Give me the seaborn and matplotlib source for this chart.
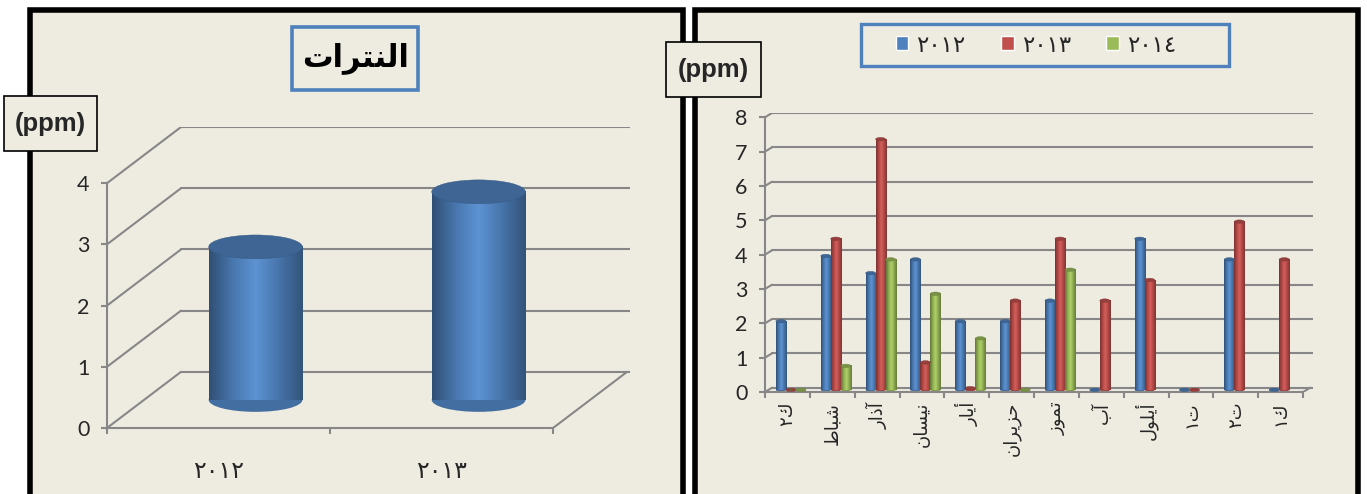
import numpy as np
import pandas as pd
import matplotlib
matplotlib.use("Agg")
import matplotlib.pyplot as plt
import matplotlib.colors as mcolors
import matplotlib.transforms as mtrans
from matplotlib.patches import Rectangle, Ellipse
import seaborn as sns

# ---- data -------------------------------------------------------------
# Arabic text is written in visual order with presentation forms so that
# matplotlib (no bidi / shaping) draws it joined and right-to-left.
title_left = "\uFE95\uFE8D\uFEAE\uFE98\uFEE8\uFEDF\uFE8D"          # النترات
years = ["\u0662\u0660\u0661\u0662", "\u0662\u0660\u0661\u0663", "\u0662\u0660\u0661\u0664"]

years_left = years[:2]
nitrate = [2.5, 3.4]

months = [
    "\u0662\uFED9",                          # ك٢
    "\uFEC1\uFE8E\uFE92\uFEB7",              # شباط
    "\uFEAD\uFE8D\uFEAB\uFE81",              # آذار
    "\uFEE5\uFE8E\uFEB4\uFEF4\uFEE7",        # نيسان
    "\uFEAD\uFE8E\uFEF3\uFE83",              # أيار
    "\uFEE5\uFE8D\uFEAE\uFEF3\uFEB0\uFEA3",  # حزيران
    "\uFEAF\uFEEE\uFEE4\uFE97",              # تموز
    "\uFE8F\uFE81",                          # آب
    "\uFEDD\uFEEE\uFEE0\uFEF3\uFE83",        # أيلول
    "\u0661\uFE95",                          # ت١
    "\u0662\uFE95",                          # ت٢
    "\u0661\uFED9",                          # ك١
]
v2012 = [2.0, 3.9, 3.4, 3.8, 2.0, 2.0, 2.6, 0.0, 4.4, 0.0, 3.8, 0.0]
v2013 = [0.0, 4.4, 7.3, 0.8, 0.05, 2.6, 4.4, 2.6, 3.2, 0.0, 4.9, 3.8]
v2014 = [0.0, 0.7, 3.8, 2.8, 1.5, 0.0, 3.5, np.nan, np.nan, np.nan, np.nan, np.nan]

df = pd.DataFrame({
    "month": months * 3,
    "year": [years[0]] * 12 + [years[1]] * 12 + [years[2]] * 12,
    "value": v2012 + v2013 + v2014,
})

# ---- style ------------------------------------------------------------
BG = "#EEECE1"
GRID = "#878787"
BLUE, RED, GREEN = "#4F81BD", "#C0504D", "#9BBB59"
W, H = 1367, 494

sns.set_style("ticks")
plt.rcParams["font.family"] = ["DejaVu Sans"]

fig = plt.figure(figsize=(W / 100, H / 100), dpi=100)
fig.patch.set_facecolor("white")


def fx(x):
    return x / W


def fy(y):
    return 1 - y / H


def ax_rect(l, t, r, b):
    return [fx(l), fy(b), (r - l) / W, (b - t) / H]


# panels with thick black borders
for l, r in [(29.5, 683), (694.5, 1357.5)]:
    fig.add_artist(Rectangle((fx(l), fy(530)), (r - l) / W, (530 - 10.5) / H,
                             transform=fig.transFigure, facecolor=BG,
                             edgecolor="black", lw=4.0, zorder=-5))


def shade_cmap(c):
    rgb = np.array(mcolors.to_rgb(c))
    dark = rgb * 0.62
    light = np.clip(rgb * 1.08 + 0.03, 0, 1)
    return mcolors.LinearSegmentedColormap.from_list(
        "sh", [dark, rgb * 0.92, light, rgb * 0.9, dark * 1.05])


def cylinders(ax, dx, dy, cap_h):
    """Shift seaborn bars to mid depth and give them a cylinder look."""
    for p in ax.patches:
        p.set_transform(mtrans.Affine2D().translate(dx, dy) + ax.transData)
        c = p.get_facecolor()
        x0, w = p.get_x() + dx, p.get_width()
        y0, h = p.get_y() + dy, p.get_height()
        rgb = np.array(mcolors.to_rgb(c))
        ax.add_patch(Ellipse((x0 + w / 2, y0), w, cap_h, facecolor=rgb * 0.85,
                             edgecolor="none", zorder=2, clip_on=False))
        if h > 0:
            ax.imshow(np.linspace(0, 1, 64)[None, :], extent=(x0, x0 + w, y0, y0 + h),
                      cmap=shade_cmap(c), aspect="auto", origin="lower",
                      interpolation="bilinear", zorder=3)
        ax.add_patch(Ellipse((x0 + w / 2, y0 + h), w, cap_h, facecolor=rgb * 0.78,
                             edgecolor=rgb * 0.7, lw=0.3, zorder=4, clip_on=False))
        p.set_visible(False)


def frame3d(ax, ncat, yticks, ddx, ddy, xmax):
    for v in yticks:
        ax.plot([-0.5, -0.5 + ddx], [v, v + ddy], color=GRID, lw=1.5, zorder=1)
        ax.plot([-0.5 + ddx, xmax], [v + ddy, v + ddy], color=GRID, lw=1.5, zorder=1)
    ax.plot([ncat - 0.5, ncat - 0.5 + ddx], [0, ddy], color=GRID, lw=1.5, zorder=1)
    for s in ["top", "right"]:
        ax.spines[s].set_visible(False)
    for s in ["left", "bottom"]:
        ax.spines[s].set_color(GRID)
        ax.spines[s].set_linewidth(1.5)
    ax.spines["left"].set_bounds(0, yticks[-1])
    ax.spines["bottom"].set_bounds(-0.5, ncat - 0.5)
    ax.set_yticks(yticks)
    ax.set_xticks(np.arange(-0.5, ncat), minor=True)
    ax.tick_params(axis="y", length=4.5, width=1.5, color=GRID, labelsize=15.5, pad=8)
    ax.tick_params(axis="x", which="minor", length=4.5, width=1.5, color=GRID)
    ax.tick_params(axis="x", which="major", length=0)
    for t in ax.get_yticklabels():
        t.set_family("Lato")
    ax.set_xlabel("")
    ax.set_ylabel("")
    ax.set_facecolor("none")


# ---- left chart: cylinders -------------------------------------------
ax1 = fig.add_axes(ax_rect(107, 127, 630, 428))
sns.barplot(x=years_left, y=nitrate, color=BLUE, saturation=1, width=0.42,
            errorbar=None, ax=ax1)
ddx1, ddy1 = 0.332, 0.918
cylinders(ax1, ddx1 / 2, ddy1 / 2, 0.39)
frame3d(ax1, 2, [0, 1, 2, 3, 4], ddx1, ddy1, 1.845)
ax1.set_xticks([0, 1], years_left)
ax1.tick_params(axis="x", which="major", labelsize=17, pad=22)
ax1.set_xlim(-0.5, 1.845)
ax1.set_ylim(0, 4 + ddy1)

# ---- right chart: monthly grouped bars -------------------------------
ax2 = fig.add_axes(ax_rect(765, 113, 1313, 392))
sns.barplot(data=df, x="month", y="value", hue="year", order=months,
            hue_order=years, palette=[BLUE, RED, GREEN], saturation=1,
            width=0.67, errorbar=None, ax=ax2)
leg = ax2.get_legend()
handles = leg.legend_handles
labels = [t.get_text() for t in leg.get_texts()]
leg.remove()
ddx2, ddy2 = 0.156, 0.125
cylinders(ax2, ddx2 / 2, ddy2 / 2, 0.1)
frame3d(ax2, 12, list(range(9)), ddx2, ddy2, 11.72)
ax2.set_xticks(range(12), months)
ax2.tick_params(axis="x", which="major", labelsize=13, pad=7, labelrotation=90)
ax2.set_xlim(-0.5, 11.72)
ax2.set_ylim(0, 8 + ddy2)

# ---- legend, title and unit boxes ------------------------------------
fig.add_artist(Rectangle((fx(861), fy(66)), 368 / W, 42 / H, transform=fig.transFigure,
                         facecolor=BG, edgecolor=BLUE, lw=2.4, zorder=5))
fig.legend(handles, labels, ncol=3, loc="center", bbox_to_anchor=(fx(1036), fy(45)),
           frameon=False, fontsize=16.5, handlelength=0.55, handleheight=0.55,
           handletextpad=0.35, columnspacing=1.55).set_zorder(6)

fig.add_artist(Rectangle((fx(292), fy(90)), 126 / W, 63 / H, transform=fig.transFigure,
                         facecolor=BG, edgecolor=BLUE, lw=2.6, zorder=5))
fig.text(fx(356), fy(58), title_left, ha="center", va="center", fontsize=22,
         fontweight="bold", color="black", zorder=6)

for l, t, r, b in [(4, 96, 97, 151), (666, 42, 761, 97)]:
    fig.add_artist(Rectangle((fx(l), fy(b)), (r - l) / W, (b - t) / H,
                             transform=fig.transFigure, facecolor=BG,
                             edgecolor="black", lw=1.2, zorder=5))
    fig.text(fx((l + r) / 2), fy((t + b) / 2), "(ppm)", ha="center", va="center",
             fontsize=18.5, fontweight="bold", family="Liberation Sans", zorder=6)

plt.savefig("out.png", dpi=100, facecolor=fig.get_facecolor())
